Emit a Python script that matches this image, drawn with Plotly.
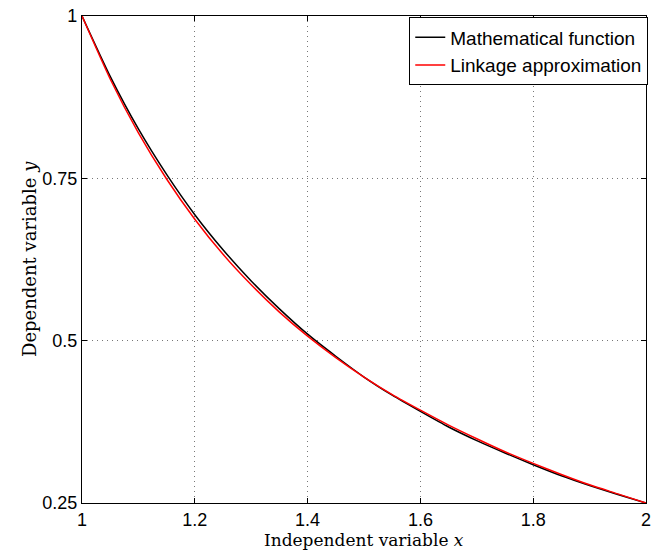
import plotly.graph_objects as go

x_vals = [1.0, 1.05, 1.1, 1.15, 1.2, 1.25, 1.3, 1.35, 1.4, 1.45, 1.5,
          1.55, 1.6, 1.65, 1.7, 1.75, 1.8, 1.85, 1.9, 1.95, 2.0]
math_func = [1.000, 0.907, 0.826, 0.756, 0.694, 0.640, 0.592, 0.549, 0.510, 0.476, 0.444,
             0.416, 0.391, 0.367, 0.346, 0.327, 0.309, 0.292, 0.277, 0.263, 0.250]
linkage = [1.000, 0.903, 0.820, 0.749, 0.687, 0.633, 0.586, 0.544, 0.507, 0.474, 0.444,
           0.417, 0.393, 0.370, 0.349, 0.329, 0.311, 0.294, 0.278, 0.264, 0.250]
x_ticks = [1, 1.2, 1.4, 1.6, 1.8, 2]
x_ticklabels = ["1", "1.2", "1.4", "1.6", "1.8", "2"]
y_ticks = [0.25, 0.5, 0.75, 1]
y_ticklabels = ["0.25", "0.5", "0.75", "1"]
x_title = "Independent variable <i>x</i>"
y_title = "Dependent variable <i>y</i>"

fig = go.Figure()
fig.add_trace(go.Scatter(x=x_vals, y=math_func, mode="lines", name="Mathematical function",
                         line=dict(color="black", width=1.5, shape="spline", smoothing=0.6)))
fig.add_trace(go.Scatter(x=x_vals, y=linkage, mode="lines", name="Linkage approximation",
                         line=dict(color="red", width=1.5, shape="spline", smoothing=0.6)))

axis_common = dict(showline=True, linecolor="black", linewidth=1.2, mirror="ticks",
                   ticks="inside", ticklen=5, tickcolor="black",
                   showgrid=True, gridcolor="#777777", griddash="1px,4px", gridwidth=1,
                   zeroline=False, ticklabeloverflow="allow",
                   tickfont=dict(family="Liberation Sans, Arial", size=18, color="black"))

title_font = dict(family="DejaVu Serif, Liberation Serif", size=17, color="black")

fig.update_layout(
    width=657, height=555,
    margin=dict(l=82, r=6, t=15, b=52),
    plot_bgcolor="white", paper_bgcolor="white",
    xaxis=dict(range=[1, 2], tickvals=x_ticks, ticktext=x_ticklabels, **axis_common),
    yaxis=dict(range=[0.25, 1], tickvals=y_ticks, ticktext=y_ticklabels, **axis_common),
    legend=dict(x=1.004, y=0.997, xanchor="right", yanchor="top",
                bordercolor="black", borderwidth=1, bgcolor="white",
                font=dict(family="Liberation Sans, Arial", size=19, color="black"),
                tracegroupgap=0),
    showlegend=True,
    annotations=[
        dict(text=x_title, xref="paper", yref="paper", x=0.5, y=-0.077,
             xanchor="center", yanchor="middle", showarrow=False, font=title_font),
        dict(text=y_title, xref="paper", yref="paper", x=-0.093, y=0.5, textangle=-90,
             xanchor="center", yanchor="middle", showarrow=False,
             font=dict(family="DejaVu Serif, Liberation Serif", size=18, color="black")),
    ],
)

fig.write_html("out.html", config={"displayModeBar": False},
               post_script="document.body.style.margin='0';document.body.style.overflow='hidden';")
